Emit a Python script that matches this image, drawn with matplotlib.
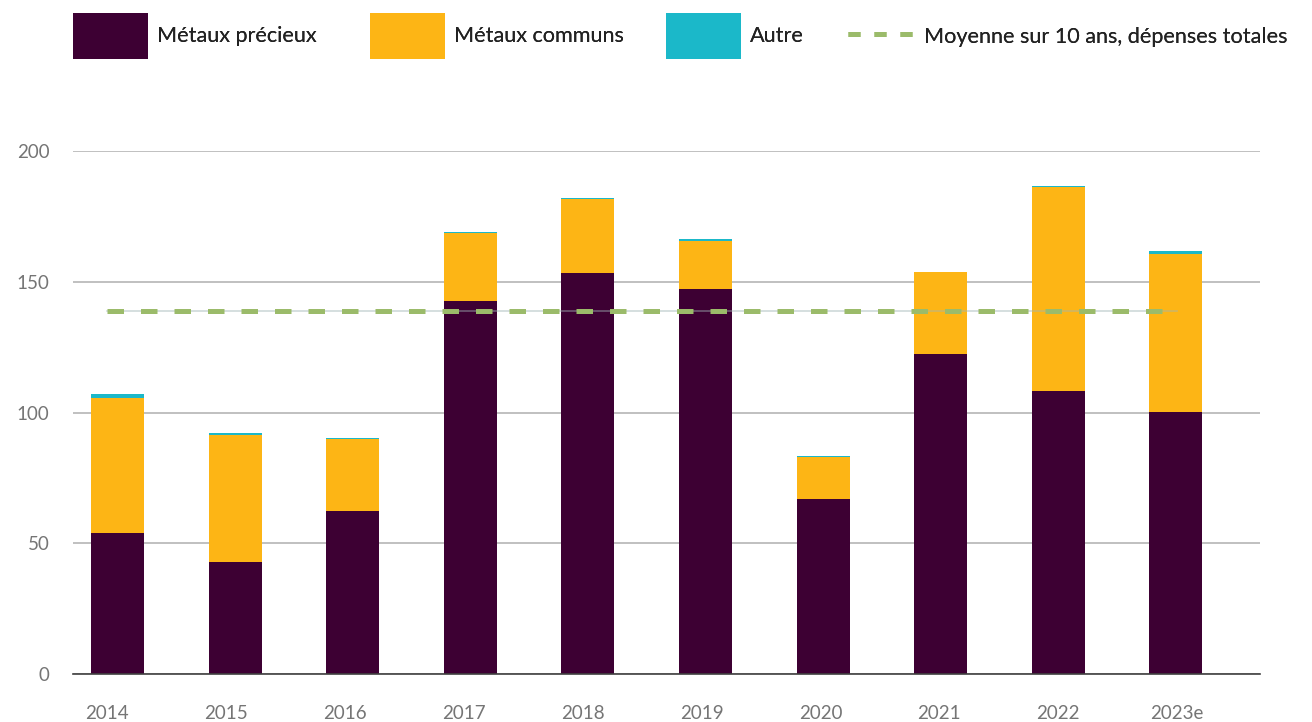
import numpy as np
import matplotlib
matplotlib.use("Agg")
import matplotlib.pyplot as plt
from matplotlib.patches import Patch
from matplotlib.lines import Line2D

plt.rcParams['font.family'] = ['Lato', 'DejaVu Sans']

years = ["2014", "2015", "2016", "2017", "2018", "2019", "2020", "2021", "2022", "2023e"]
precious = [53.9, 42.8, 62.3, 142.6, 153.3, 147.4, 66.9, 122.4, 108.2, 100.2]
common = [51.6, 48.6, 27.6, 26.0, 28.4, 18.2, 16.1, 31.3, 78.0, 60.5]
other = [1.5, 0.8, 0.5, 0.4, 0.4, 0.6, 0.4, 0.1, 0.3, 1.1]
avg_10y = 138.8

c_prec = "#3d0033"
c_comm = "#fdb515"
c_oth = "#1bb8c9"
c_avg = "#9bbb6a"

W, H = 1312, 722
fig = plt.figure(figsize=(W / 100, H / 100), dpi=100)
ax = fig.add_axes([73 / W, 1 - 674 / H, (1260 - 73) / W, (674 - 151) / H])

x = np.arange(len(years))
w = 0.45
prec = np.array(precious)
comm = np.array(common)
ax.bar(x, prec, w, color=c_prec, zorder=2)
ax.bar(x, comm, w, bottom=prec, color=c_comm, zorder=2)
ax.bar(x, other, w, bottom=prec + comm, color=c_oth, zorder=2)

ax.set_xlim(-0.378, 9.715)
ax.set_ylim(0, 200)
ax.set_yticks([0, 50, 100, 150, 200])
ax.set_xticks([])
ax.yaxis.grid(True, color="#b5b5b5", lw=1.2, zorder=0)
ax.set_axisbelow(True)
for s in ["top", "right", "left"]:
    ax.spines[s].set_visible(False)
ax.spines["bottom"].set_color("#404040")
ax.spines["bottom"].set_linewidth(1.2)
ax.spines["bottom"].set_zorder(5)
ax.tick_params(axis="y", length=0, labelsize=13.5, labelcolor="#757575", pad=17)

# category axis for labels and the average line
ax2 = ax.twiny()
ax2.set_xlim(-0.286, 9.697)
avg_line = [avg_10y] * len(years)
ax2.plot(x, avg_line, color="#9fb5b5", alpha=0.5, lw=1.2, zorder=3)
ax2.plot(x, avg_line, color=c_avg, lw=3.6, dashes=(3.3, 3.4), zorder=4)
ax2.xaxis.set_ticks_position("bottom")
ax2.xaxis.set_label_position("bottom")
ax2.set_xticks(x)
ax2.set_xticklabels(years)
ax2.tick_params(axis="x", length=0, labelsize=13.5, labelcolor="#757575", pad=22)
for s in ax2.spines.values():
    s.set_visible(False)

# legend entries
handles = [
    Patch(facecolor=c_prec, label="Métaux précieux"),
    Patch(facecolor=c_comm, label="Métaux communs"),
    Patch(facecolor=c_oth, label="Autre"),
    Line2D([0], [0], color=c_avg, lw=3.6, dashes=(2.4, 2.8),
           label="Moyenne sur 10 ans, dépenses totales"),
]
leg_x = [73, 370, 666, 848]
leg_len = [3.46, 3.46, 3.46, 3.09]
leg_hh = [2.91, 2.91, 2.91, 1.0]
fs = 15.6
for h, lx, hl, hh in zip(handles, leg_x, leg_len, leg_hh):
    lg = fig.legend(handles=[h], loc="center left", bbox_to_anchor=(lx / W, 1 - 36 / H),
                    frameon=False, fontsize=fs, handlelength=hl, handleheight=hh,
                    handletextpad=0.41, labelcolor="#222222",
                    borderpad=0, borderaxespad=0)
    fig.add_artist(lg)

fig.savefig("out.png", dpi=100)
